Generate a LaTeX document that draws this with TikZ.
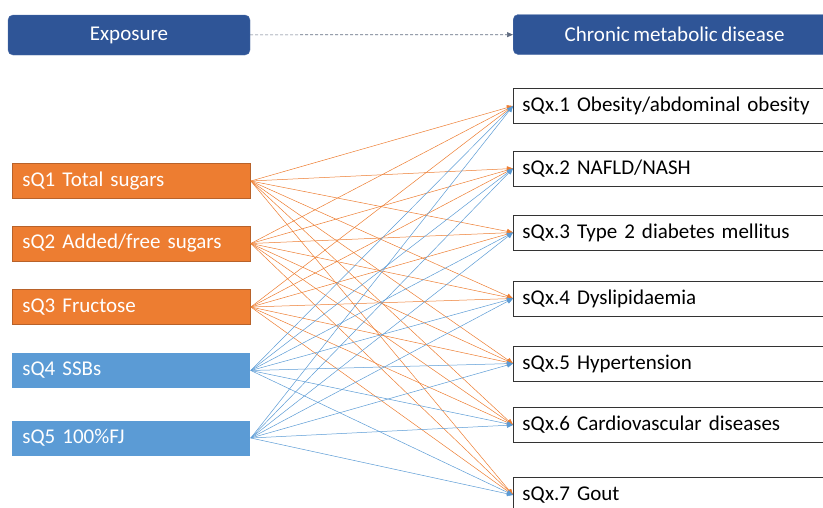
\documentclass[tikz,border=0pt]{standalone}
\usepackage{fontspec}
\setmainfont{Carlito}[WordSpace=0.75]
\usetikzlibrary{arrows.meta, positioning}
\definecolor{hdrblue}{HTML}{2F5597}
\definecolor{sugarorange}{HTML}{ED7D31}
\definecolor{sugaredge}{HTML}{B8622A}
\definecolor{drinkblue}{HTML}{5B9BD5}
\definecolor{dashgray}{HTML}{5F6B80}

\begin{document}
\begin{tikzpicture}[x=1pt, y=-1pt,
    header/.style={draw=hdrblue!85!white, fill=hdrblue, rounded corners=5pt, text=white,
        minimum height=40pt, font=\fontsize{21}{24}\selectfont},
    sugar/.style={draw=sugaredge, fill=sugarorange, text=white, anchor=west, line width=0.8pt,
        minimum height=35pt, text width=218pt, inner xsep=10pt, align=left, font=\fontsize{21}{24}\selectfont},
    drink/.style={sugar, draw=none, fill=drinkblue},
    outcome/.style={draw=black!80, fill=white, anchor=west, line width=0.8pt,
        minimum height=35pt, text width=295pt, inner xsep=9pt, align=left, font=\fontsize{21}{24}\selectfont},
    link/.style={line width=0.5pt, -{Triangle[length=6pt, width=5pt]}}]
    \useasboundingbox (0,0) rectangle (823,507);

    % Headers
    \node[header, minimum width=242pt] (expo) at (129,35) {Exposure};
    \node[header, minimum width=323pt, anchor=west] (cmd) at (513,34.5) {Chronic metabolic disease};
    \draw[dashgray, dashed, dash pattern=on 3pt off 2pt, line width=0.7pt, -{Triangle[length=6pt, width=5pt]}] (expo) -- (cmd);

    % Exposures
    \node[sugar] (q1) at (12,181) {sQ1 Total sugars};
    \node[sugar] (q2) at (12,243.5) {sQ2 Added/free sugars};
    \node[sugar] (q3) at (12,307) {sQ3 Fructose};
    \node[drink] (q4) at (12,370.5) {sQ4 SSBs};
    \node[drink] (q5) at (12,438) {sQ5 100\%FJ};

    % Outcomes
    \node[outcome] (d1) at (513,106) {sQx.1 Obesity/abdominal obesity};
    \node[outcome] (d2) at (513,168.5) {sQx.2 NAFLD/NASH};
    \node[outcome] (d3) at (513,232.5) {sQx.3 Type 2 diabetes mellitus};
    \node[outcome] (d4) at (513,298.5) {sQx.4 Dyslipidaemia};
    \node[outcome] (d5) at (513,363.5) {sQx.5 Hypertension};
    \node[outcome] (d6) at (513,425) {sQx.6 Cardiovascular diseases};
    \node[outcome] (d7) at (513,495) {sQx.7 Gout};

    % Every exposure to every outcome
    \foreach \s/\c in {q1/sugarorange, q2/sugarorange, q3/sugarorange, q4/drinkblue, q5/drinkblue}
        \foreach \t in {1,...,7}
            \draw[link, \c] (\s.east) -- (d\t.west);
\end{tikzpicture}
\end{document}
